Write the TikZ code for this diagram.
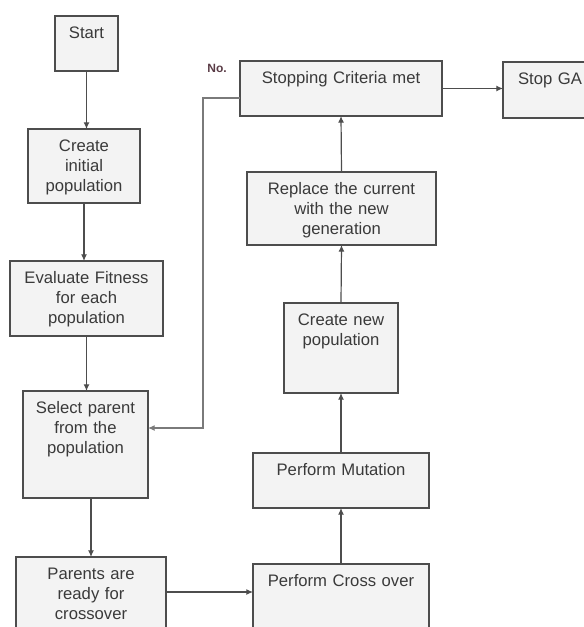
\documentclass[tikz,border=0pt]{standalone}
\usepackage{fontspec}
\setmainfont{Liberation Sans}
\usetikzlibrary{arrows.meta,positioning}
\definecolor{boxline}{HTML}{4D4D4D}
\definecolor{boxfill}{HTML}{F3F3F3}
\definecolor{txt}{HTML}{3A3A3A}
\definecolor{loopline}{HTML}{7A7A7A}
\definecolor{notxt}{HTML}{5A3C46}

\begin{document}
\begin{tikzpicture}[x=0.75pt, y=-0.75pt,
  gabox/.style={draw=boxline, line width=0.9pt, fill=boxfill, text=txt,
    anchor=north, align=center, inner sep=0pt, outer sep=0pt,
    text height=17pt, font=\fontsize{12.5}{15}\selectfont},
  arr/.style={draw=boxline, line width=0.9pt, -{Latex[length=5pt,width=4.5pt]}}]
\useasboundingbox (0,0) rectangle (584,627);
% Columna izquierda
\node[gabox, text width=47.25pt,  text depth=24.25pt] (start)    at (86.5,16)  {Start};
\node[gabox, text width=84pt,     text depth=38.5pt]  (create)   at (84,129)   {Create\\initial\\population};
\node[gabox, text width=114.75pt, text depth=39.25pt] (evaluate) at (86.5,261) {Evaluate Fitness\\for each\\population};
\node[gabox, text width=93.75pt,  text depth=63.25pt] (select)   at (85.5,391) {Select parent\\from the\\population};
\node[gabox, text width=112.5pt,  text depth=50.5pt]  (parents)  at (91,557)   {Parents are\\ready for\\crossover};
% Columna derecha (de abajo hacia arriba)
\node[gabox, text width=132pt,    text depth=50.5pt]  (cross)    at (341,564)  {Perform Cross over};
\node[gabox, text width=132pt,    text depth=24.25pt] (mutation) at (341,453)  {Perform Mutation};
\node[gabox, text width=85.5pt,   text depth=50.5pt]  (newpop)   at (341,303)  {Create new\\population};
\node[gabox, text width=141.75pt, text depth=37.75pt] (replace)  at (341.5,172) {Replace the current\\with the new\\generation};
\node[gabox, text width=151.5pt,  text depth=24.25pt] (stopping) at (341,61)   {Stopping Criteria met};
\node[gabox, text width=70.5pt,   text depth=25pt]    (stopga)   at (550,62)   {Stop GA};
% Etiqueta del lazo
\node[font=\bfseries\fontsize{9}{10}\selectfont, text=notxt] (no) at (217,68) {No.};

% Flechas
\draw[arr] (start.south) -- (start.south |- create.north);
\draw[arr] (create.south) -- (create.south |- evaluate.north);
\draw[arr] (evaluate.south) -- (evaluate.south |- select.north);
\draw[arr] (select.south -| parents.north) -- (parents.north);
\coordinate (xo) at ([yshift=-26.25pt]parents.north east);
\draw[arr] (xo) -- (xo -| cross.west);
\draw[arr] (cross.north) -- (mutation.south);
\draw[arr] (mutation.north) -- (newpop.south);
\draw[arr] (newpop.north) -- (replace.south);
\draw[arr] (replace.north) -- (stopping.south);
\draw[arr] (stopping.east) -- (stopping.east -| stopga.west);
% Lazo "No"
\coordinate (noout) at ([yshift=-27.75pt]stopping.north west);
\coordinate (noin) at ([yshift=-27.75pt]select.north east);
\draw[arr, draw=loopline] (noout) -- ++(-37,0) |- (noin);
\end{tikzpicture}
\end{document}
